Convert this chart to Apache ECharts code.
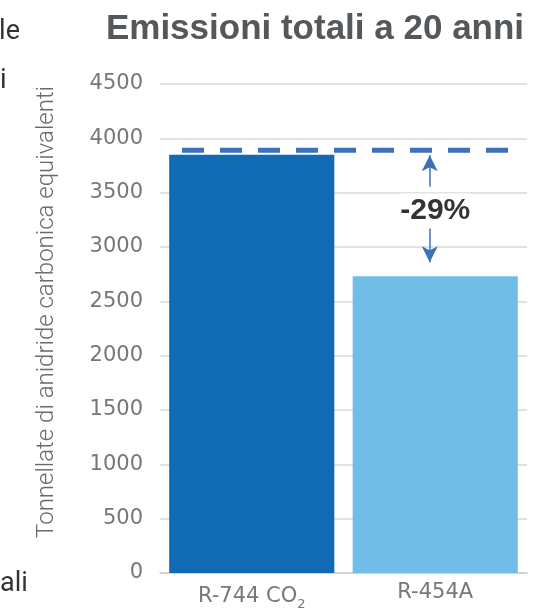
<!DOCTYPE html>
<html><head><meta charset="utf-8">
<script src="https://cdn.jsdelivr.net/npm/echarts@6/dist/echarts.min.js"></script>
<style>html,body{margin:0;padding:0;background:#fff}#c{width:556px;height:611px}</style>
</head><body><div id="c"></div>
<script>
const categories = ['R-744 CO2', 'R-454A'];
const emissions = [3850, 2730];
const barColors = ['#116ab4', '#70bde8'];
const yTicks = { min: 0, max: 4500, interval: 500 };
const referenceLevel = 3890;
const reductionLabel = '-29%';
const yAxisTitle = 'Tonnellate di anidride carbonica equivalenti';
// overlay positions in a hidden 0..2 value axis aligned with the categories
const dashSpan = [0.12, 1.90];
const arrowX = 1.47;
const arrowUp = [3845, 3555];
const arrowDown = [3170, 2860];
const labelPos = [1.50, 3338];

const chart = echarts.init(document.getElementById('c'));
const grey = '#6b6b6b';
const tickGrey = '#777777';
const tickFont = "'DejaVu Sans'";
chart.setOption({
  animation: false,
  title: {
    text: 'Emissioni totali a 20 anni',
    left: 310, top: 7, textAlign: 'center',
    textStyle: { fontFamily: 'Liberation Sans', fontWeight: 'bold', fontSize: 35, color: '#54585b' }
  },
  grid: { left: 160, right: 29, top: 84, bottom: 35 },
  xAxis: [{
    type: 'category', data: categories,
    axisTick: { show: false },
    axisLine: { lineStyle: { color: '#d0d0d0', width: 1.5 } },
    axisLabel: {
      interval: 0, margin: 9,
      formatter: v => v === 'R-744 CO2' ? '{a|R-744 CO}{s|2}' : '{a|' + v + '}',
      rich: {
        a: { fontFamily: tickFont, fontWeight: 'normal', fontSize: 21, color: tickGrey },
        s: { fontFamily: tickFont, fontWeight: 'normal', fontSize: 13, color: tickGrey, padding: [16, 0, 0, 0] }
      }
    }
  }, {
    type: 'value', min: 0, max: 2, show: false
  }],
  yAxis: {
    type: 'value', min: yTicks.min, max: yTicks.max, interval: yTicks.interval,
    axisLine: { show: false }, axisTick: { show: false },
    axisLabel: { margin: 17, fontFamily: tickFont, fontSize: 21, color: tickGrey, formatter: v => String(v) },
    splitLine: { lineStyle: { color: '#d9d9d9', width: 1.5 } }
  },
  series: [{
    type: 'bar', barCategoryGap: '10%',
    data: emissions.map((v, i) => ({ value: v, itemStyle: { color: barColors[i] } }))
  }, {
    type: 'line', xAxisIndex: 1, symbol: 'none', z: 5,
    data: [[dashSpan[0], referenceLevel], [dashSpan[1], referenceLevel]],
    lineStyle: { color: '#3c70b9', width: 5, type: [22, 16] }
  }, {
    type: 'scatter', xAxisIndex: 1, symbolSize: 0, z: 6,
    data: [labelPos],
    label: {
      show: true, position: 'inside', formatter: reductionLabel,
      fontFamily: 'Liberation Sans', fontWeight: 'bold', fontSize: 30, color: '#000',
      textBorderWidth: 0, backgroundColor: '#fff', padding: [2, 0]
    },
    markLine: {
      silent: true, symbol: ['arrow', 'none'], symbolSize: [12, 16],
      label: { show: false },
      lineStyle: { color: '#3c70b9', width: 1.5, type: 'solid' },
      data: [
        [{ coord: [arrowX, arrowUp[0]] }, { coord: [arrowX, arrowUp[1]] }],
        [{ coord: [arrowX, arrowDown[1]] }, { coord: [arrowX, arrowDown[0]] }]
      ]
    }
  }],
  graphic: [
    { type: 'text', x: 47, y: 312, rotation: Math.PI / 2,
      style: { text: yAxisTitle, font: '300 24px Roboto', fill: grey, align: 'center', verticalAlign: 'middle' } },
    { type: 'text', x: 20, y: 32, style: { text: 'le', fontSize: 27, fontFamily: 'Roboto', fill: '#333', align: 'right', verticalAlign: 'middle' } },
    { type: 'text', x: 0, y: 81, style: { text: 'i', fontSize: 27, fontFamily: 'Roboto', fill: '#333', verticalAlign: 'middle' } },
    { type: 'text', x: 0, y: 584, style: { text: 'ali', fontSize: 27, fontFamily: 'Roboto', fill: '#333', verticalAlign: 'middle' } }
  ]
});
</script></body></html>
